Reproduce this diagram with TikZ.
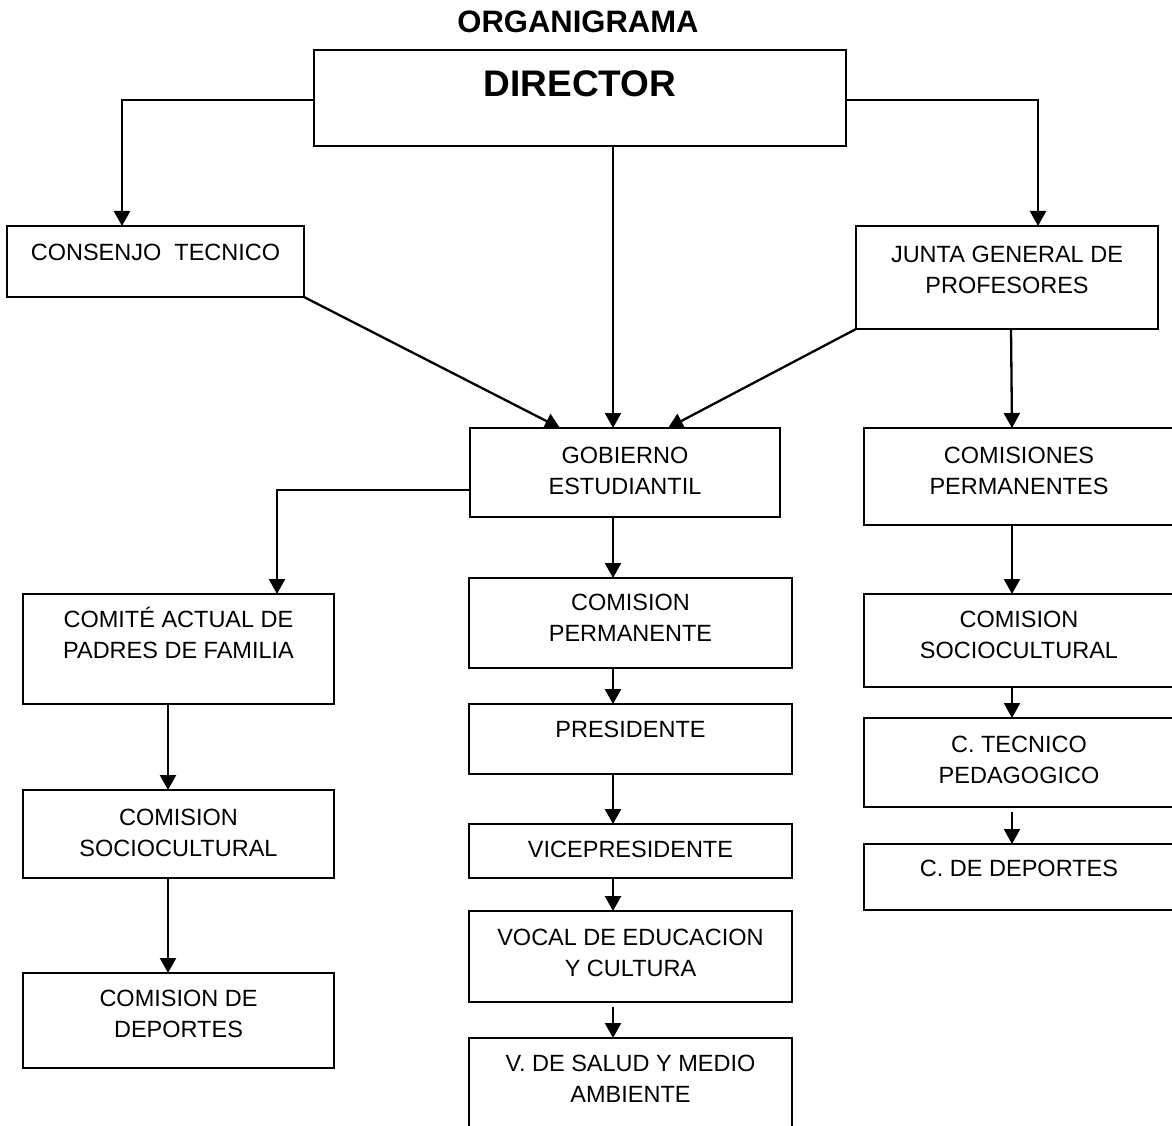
\documentclass[tikz,border=0pt]{standalone}
\usepackage{fontspec}
\setmainfont{Liberation Sans}
\usetikzlibrary{arrows.meta}
\tikzset{
  box/.style={draw, line width=2pt, rectangle, inner sep=0pt, outer sep=0pt, anchor=north west},
  txt/.style={inner sep=0pt, align=center, anchor=north, font=\fontsize{23.5}{31}\selectfont},
  arr/.style={line width=2.3pt, -{Triangle[length=15pt,width=16pt]}},
}
\newcommand\mkbox[7]{%
  \node[box, minimum width={(#4-#2)*1pt}, minimum height={(#5-#3)*1pt}] (#1) at (#2,#3) {};
  \node[txt] (#1-t) at ([yshift=-#6pt]#1.north) {#7};
}
\begin{document}
\begin{tikzpicture}[x=1pt,y=-1pt]
\useasboundingbox (0,0) rectangle (1172,1126);
\clip (0,0) rectangle (1172,1126);
\fill[white] (0,0) rectangle (1172,1126);

\node[inner sep=0pt, font=\fontsize{31}{36}\selectfont\bfseries] (title) at (578,22) {ORGANIGRAMA};

% director
\node[box, minimum width=532pt, minimum height=96pt] (dir) at (314,50) {};
\node[inner sep=0pt, anchor=north, font=\fontsize{37}{42}\selectfont\bfseries] (dir-t) at ([yshift=-20pt]dir.north) {DIRECTOR};

\mkbox{ct}{7}{226}{304}{297}{17.6}{CONSENJO\ \ TECNICO}
\mkbox{jg}{856}{226}{1158}{329}{20}{JUNTA GENERAL DE\\PROFESORES}
\mkbox{ge}{470}{428}{780}{517}{18.6}{GOBIERNO\\ESTUDIANTIL}
\mkbox{cp}{864}{428}{1174}{525}{18.6}{COMISIONES\\PERMANENTES}

\mkbox{cap}{23}{594}{334}{704}{13.1}{COMITÉ ACTUAL DE\\PADRES DE FAMILIA}
\mkbox{csa}{23}{790}{334}{878}{18.6}{COMISION\\SOCIOCULTURAL}
\mkbox{cda}{23}{973}{334}{1068}{16.6}{COMISION DE\\DEPORTES}

\mkbox{cperm}{469}{578}{792}{668}{15.6}{COMISION\\PERMANENTE}
\mkbox{pres}{469}{704}{792}{774}{16.6}{PRESIDENTE}
\mkbox{vice}{469}{824}{792}{878}{16.6}{VICEPRESIDENTE}
\mkbox{vocal}{469}{911}{792}{1002}{18}{VOCAL DE EDUCACION\\Y CULTURA}
\mkbox{salud}{469}{1038}{792}{1150}{16.6}{V. DE SALUD Y MEDIO\\AMBIENTE}

\mkbox{csb}{864}{594}{1174}{687}{16.6}{COMISION\\SOCIOCULTURAL}
\mkbox{ctp}{864}{718}{1174}{807}{17.5}{C. TECNICO\\PEDAGOGICO}
\mkbox{cdd}{864}{844}{1174}{910}{15.6}{C. DE DEPORTES}

% connectors
\draw[arr] ([yshift=-2pt]dir.west) -| ([xshift=115pt]ct.north west);
\draw[arr] ([yshift=-2pt]dir.east) -| ([xshift=182pt]jg.north west);
\draw[arr] ([xshift=299pt]dir.south west) -- ([xshift=143pt]ge.north west);
\draw[arr] (ct.south east) -- ([xshift=90pt]ge.north west);
\draw[arr] (jg.south west) -- ([xshift=198pt]ge.north west);

\draw[arr] ([yshift=-17.5pt]ge.west) -| ([xshift=254pt]cap.north west);
\draw[arr] ([xshift=145pt]cap.south west) -- ([xshift=145pt]csa.north west);
\draw[arr] ([xshift=145pt]csa.south west) -- ([xshift=145pt]cda.north west);

\draw[arr] ([xshift=143pt]ge.south west) -- ([xshift=144pt]cperm.north west);
\draw[arr] ([xshift=144pt]cperm.south west) -- ([xshift=144pt]pres.north west);
\draw[arr] ([xshift=144pt]pres.south west) -- ([xshift=144pt]vice.north west);
\draw[arr] ([xshift=144pt]vice.south west) -- ([xshift=144pt]vocal.north west);
\draw[arr] ([xshift=144pt,yshift=-5pt]vocal.south west) -- ([xshift=144pt]salud.north west);

\draw[arr] ([xshift=155pt]jg.south west) -- ([xshift=148pt]cp.north west);
\draw[arr] ([xshift=148pt]cp.south west) -- ([xshift=148pt]csb.north west);
\draw[arr] ([xshift=148pt]csb.south west) -- ([xshift=148pt]ctp.north west);
\draw[arr] ([xshift=148pt,yshift=-5pt]ctp.south west) -- ([xshift=148pt]cdd.north west);
\end{tikzpicture}
\end{document}
